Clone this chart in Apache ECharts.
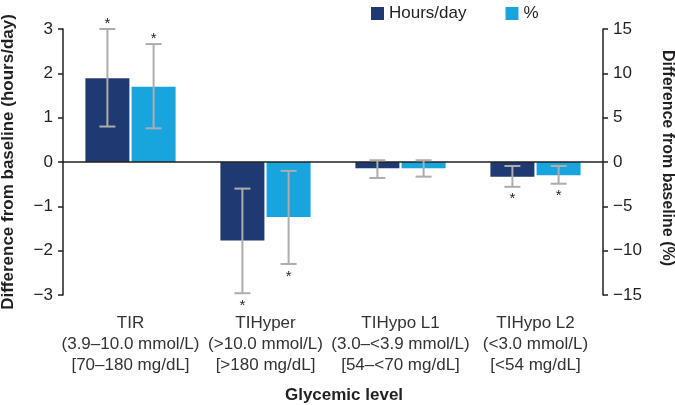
<!DOCTYPE html>
<html><head><meta charset="utf-8">
<script src="https://cdn.jsdelivr.net/npm/echarts@6/dist/echarts.min.js"></script>
<style>html,body{margin:0;padding:0;background:#fff}#c{width:675px;height:405px}</style>
</head><body><div id="c"></div>
<script>
const categories = ['TIR\n(3.9–10.0 mmol/L)\n[70–180 mg/dL]', 'TIHyper\n(>10.0 mmol/L)\n[>180 mg/dL]', 'TIHypo L1\n(3.0–<3.9 mmol/L)\n[54–<70 mg/dL]', 'TIHypo L2\n(<3.0 mmol/L)\n[<54 mg/dL]'];
const hoursValues = [1.89, -1.77, -0.14, -0.33];
const hoursLow = [0.8, -2.96, -0.36, -0.56];
const hoursHigh = [3.0, -0.6, 0.04, -0.09];
const pctValues = [8.5, -6.2, -0.7, -1.5];
const pctLow = [3.8, -11.5, -1.65, -2.45];
const pctHigh = [13.3, -1.0, 0.2, -0.45];
const significant = [true, true, false, true];
const leftTicks = [-3, -2, -1, 0, 1, 2, 3];
const rightTicks = [-15, -10, -5, 0, 5, 10, 15];

const FONT = "'Liberation Sans', Arial, sans-serif";
const DARK = '#1f3a72';
const LIGHT = '#18a5de';
const ERR = '#adadad';
const BARW = 44;
const OFF = 23.1;

function errSeries(low, high, values, axis, offset) {
  return {
    type: 'custom', yAxisIndex: axis, silent: true, z: 5,
    data: categories.map((c, i) => [i, low[i], high[i], significant[i] ? 1 : 0, values[i]]),
    renderItem(params, api) {
      const idx = api.value(0);
      const lo = api.coord([idx, api.value(1)]);
      const hi = api.coord([idx, api.value(2)]);
      const x = lo[0] + offset;
      const cap = 8;
      const style = { stroke: ERR, lineWidth: 2 };
      const children = [
        { type: 'line', shape: { x1: x, y1: lo[1], x2: x, y2: hi[1] }, style },
        { type: 'line', shape: { x1: x - cap, y1: lo[1], x2: x + cap, y2: lo[1] }, style },
        { type: 'line', shape: { x1: x - cap, y1: hi[1], x2: x + cap, y2: hi[1] }, style }
      ];
      if (api.value(3)) {
        const pos = api.value(4) > 0;
        const y = pos ? hi[1] - 13 : lo[1] + 5;
        children.push({ type: 'text', style: { x: x, y: y, text: '*', fill: '#231f20', font: '15px ' + FONT, align: 'center', verticalAlign: 'top' } });
      }
      return { type: 'group', children };
    }
  };
}

const minus = v => String(v).replace('-', '\u2212');

const chart = echarts.init(document.getElementById('c'), null, { renderer: 'canvas' });
chart.setOption({
  animation: false,
  textStyle: { fontFamily: FONT },
  grid: { left: 63, right: 72, top: 29, bottom: 110, containLabel: false, outerBoundsMode: 'none' },
  legend: {
    left: 366, top: 0, itemWidth: 13, itemHeight: 13, itemGap: 39,
    icon: 'rect',
    textStyle: { fontSize: 17, color: '#231f20', fontFamily: FONT },
    data: ['Hours/day', '%']
  },
  xAxis: {
    type: 'category', data: categories,
    axisLine: { show: false }, axisTick: { show: false },
    axisLabel: { fontSize: 17, lineHeight: 21, color: '#333', margin: 18, fontFamily: FONT, interval: 0, hideOverlap: false },
    name: 'Glycemic level', nameLocation: 'middle', nameGap: 92,
    nameTextStyle: { fontSize: 17, fontWeight: 'bold', color: '#231f20', fontFamily: FONT, padding: [0, 0, 0, 22] }
  },
  yAxis: [
    {
      type: 'value', min: leftTicks[0], max: leftTicks[leftTicks.length - 1], interval: 1,
      axisLine: { show: true, lineStyle: { color: '#231f20', width: 1.5 } },
      axisTick: { show: true, length: 5, lineStyle: { color: '#231f20', width: 1.5 } },
      splitLine: { show: false },
      axisLabel: { fontSize: 17, color: '#231f20', margin: 10, formatter: minus },
      name: 'Difference from baseline (hours/day)', nameLocation: 'middle', nameGap: 46, nameRotate: 90,
      nameTextStyle: { fontSize: 17, fontWeight: 'bold', color: '#231f20', fontFamily: FONT }
    },
    {
      type: 'value', min: rightTicks[0], max: rightTicks[rightTicks.length - 1], interval: 5,
      position: 'right',
      axisLine: { show: true, lineStyle: { color: '#231f20', width: 1.5 } },
      axisTick: { show: true, length: 5, lineStyle: { color: '#231f20', width: 1.5 } },
      splitLine: { show: false },
      axisLabel: { fontSize: 17, color: '#231f20', margin: 10, formatter: minus },
      name: 'Difference from baseline (%)', nameLocation: 'middle', nameGap: 56, nameRotate: -90,
      nameTextStyle: { fontSize: 16, fontWeight: 'bold', color: '#231f20', fontFamily: FONT, padding: [0, 8, 0, 0] }
    }
  ],
  series: [
    {
      name: 'Hours/day', type: 'bar', yAxisIndex: 0, data: hoursValues,
      barWidth: BARW, barGap: '5%', itemStyle: { color: DARK },
      markLine: {
        silent: true, symbol: 'none', label: { show: false },
        lineStyle: { color: '#231f20', width: 1.5, type: 'solid' },
        data: [{ yAxis: 0 }]
      }
    },
    {
      name: '%', type: 'bar', yAxisIndex: 1, data: pctValues,
      barWidth: BARW, barGap: '5%', itemStyle: { color: LIGHT }
    },
    errSeries(hoursLow, hoursHigh, hoursValues, 0, -OFF),
    errSeries(pctLow, pctHigh, pctValues, 1, OFF)
  ]
});
</script></body></html>
